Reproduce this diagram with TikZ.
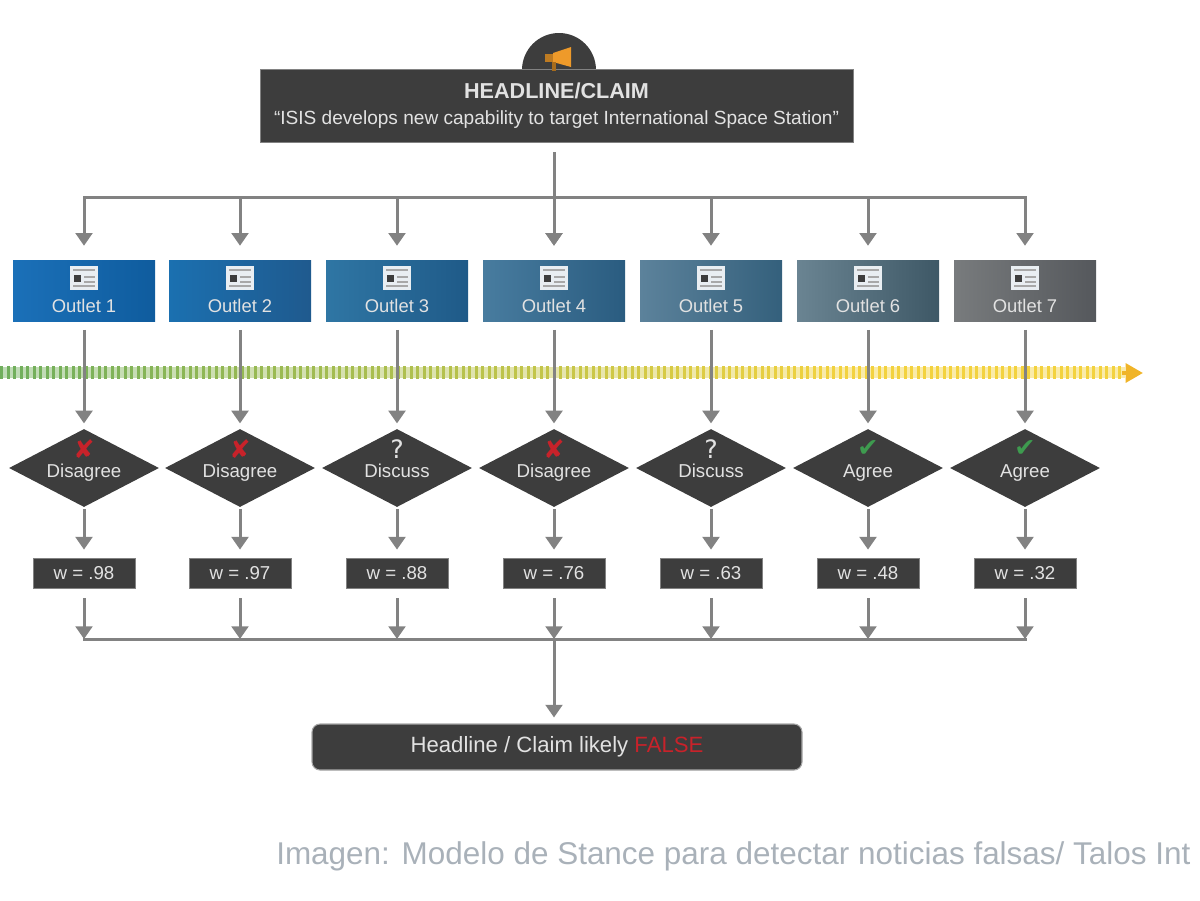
\documentclass[tikz,border=0pt]{standalone}
\usepackage{fontspec}
\setmainfont{Liberation Sans}
\newfontfamily\symfont{DejaVu Sans}
\usetikzlibrary{arrows.meta,shapes.geometric}

\definecolor{panel}{HTML}{3D3D3D}
\definecolor{wire}{HTML}{828282}
\definecolor{lettering}{HTML}{E2E2E2}
\definecolor{caption}{HTML}{A9B1B9}
\definecolor{falsered}{HTML}{C8222A}
\definecolor{agreegreen}{HTML}{3E9B4F}
\definecolor{horn}{HTML}{EE9A2A}
\definecolor{pageicon}{HTML}{E9EEF2}
\definecolor{trendG}{HTML}{6FAE5C}
\definecolor{trendY}{HTML}{F3D23E}
\definecolor{trendtip}{HTML}{F0B428}
\definecolor{outL1}{HTML}{1B70B8}\definecolor{outR1}{HTML}{0F5C9E}
\definecolor{outL2}{HTML}{1B70B0}\definecolor{outR2}{HTML}{1F5A8E}
\definecolor{outL3}{HTML}{2F76A4}\definecolor{outR3}{HTML}{1F5A88}
\definecolor{outL4}{HTML}{487C9F}\definecolor{outR4}{HTML}{2A5C80}
\definecolor{outL5}{HTML}{5C829B}\definecolor{outR5}{HTML}{34607C}
\definecolor{outL6}{HTML}{6A8492}\definecolor{outR6}{HTML}{3E5866}
\definecolor{outL7}{HTML}{787B7D}\definecolor{outR7}{HTML}{55585C}

\tikzset{
  darkbox/.style={fill=panel,draw=wire,line width=.6pt,inner sep=0pt,text=lettering,font=\fontsize{14}{18}\selectfont},
  outletbox/.style={minimum width=106.5pt,minimum height=45.75pt,inner sep=0pt},
  stancebox/.style={diamond,fill=panel,minimum width=112.5pt,minimum height=58.5pt,inner sep=0pt},
  weightbox/.style={darkbox,minimum width=76.5pt,minimum height=22.5pt},
  wireline/.style={draw=wire,line width=2.25pt},
  wirearrow/.style={wireline,-{Triangle[width=12.5pt,length=9.5pt]}},
  boxlabel/.style={inner sep=0pt,text=lettering,font=\fontsize{13.8}{16}\selectfont},
}

\begin{document}
\begin{tikzpicture}[x=0.75pt,y=-0.75pt]
  \useasboundingbox (0,0) rectangle (1200,900);

  %%%%  Trend band
  \foreach \t in {0,...,172}
  {\pgfmathsetmacro\k{min(100,\t/1.3)}
   \pgfmathsetmacro\xx{\t*6.5}
   \colorlet{trendnow}{trendY!\k!trendG}
   \fill[trendnow!45!white] (\xx,367) rectangle ++(6.5,11);
   \fill[trendnow] (\xx,365.5) rectangle ++(3.4,13);
  };
  \coordinate (trendA) at (1122,373);
  \coordinate (trendB) at (1143,373);
  \draw[-{Triangle[width=14pt,length=13pt]},draw=trendtip,line width=3pt] (trendA) -- (trendB);

  %%%%  Headline
  \fill[panel] (559,70) circle (37);
  \node[darkbox,align=center,minimum width=444.75pt,minimum height=54.75pt] (head) at (556.5,105.5)
    {{\bfseries\fontsize{16.2}{18}\selectfont HEADLINE/CLAIM}\\[1pt]{\fontsize{14.3}{18}\selectfont``ISIS develops new capability to target International Space Station''}};
  \fill[horn] (553,53) -- (571,47) -- (571,67) -- (553,62) -- cycle;
  \fill[horn!80!black] (545,54) rectangle (553,62);
  \fill[horn!70!black] (552,62) rectangle (556,71);

  \coordinate (busT) at (84,197);
  \coordinate (busB) at (84,639);
  \coordinate (busTe) at (1025,197);
  \coordinate (busBe) at (1025,639);
  \draw[wireline,line cap=rect] (busT) -- (busTe);
  \draw[wireline,line cap=rect] (busB) -- (busBe);

  %%%%  Columns
  \foreach \i/\x/\mrk/\mcol/\txt/\w in {
      1/84/✘/falsered/Disagree/.98,
      2/240/✘/falsered/Disagree/.97,
      3/397/?/lettering/Discuss/.88,
      4/554/✘/falsered/Disagree/.76,
      5/711/?/lettering/Discuss/.63,
      6/868/✔/agreegreen/Agree/.48,
      7/1025/✔/agreegreen/Agree/.32}
  {\coordinate (top\i) at (\x,197);
   \coordinate (low\i) at (\x,639);
   \node[outletbox,left color=outL\i,right color=outR\i] (outlet\i) at (\x,290.5) {};
   \node[boxlabel] (name\i) at (\x,306) {Outlet \i};
   \node[stancebox] (stance\i) at (\x,468) {};
   \node[boxlabel,anchor=base,font=\fontsize{14}{16}\selectfont] (verdict\i) at (\x,477) {\txt};
   \node[inner sep=0pt,text=\mcol,font=\symfont\fontsize{19}{20}\selectfont] (mark\i) at (\x,449) {\mrk};
   \node[weightbox] (weight\i) at (\x,573) {w = \w};

   % page icon
   \fill[pageicon] (\x-14,266) rectangle (\x+14,290);
   \fill[panel] (\x-10,275) rectangle (\x-3,282);
   \draw[wire!70,line width=.8pt] (\x-11,270) -- (\x+11,270) (\x,277) -- (\x+11,277) (\x,282) -- (\x+11,282) (\x-11,286) -- (\x+11,286);

   \draw[wirearrow,shorten >=10.5pt] (top\i) -- (outlet\i.north);
   \draw[wirearrow,shorten <=6.5pt,shorten >=4pt] (outlet\i.south) -- (stance\i.north);
   \draw[wirearrow,shorten <=1.5pt,shorten >=6pt] (stance\i.south) -- (weight\i.north);
   \draw[wirearrow,shorten <=7.5pt,shorten >=0pt] (weight\i.south) -- (low\i);
  };

  %%%%  Verdict
  \node[draw=wire!70,fill=panel,rounded corners=6pt,line width=.8pt,minimum width=367.5pt,minimum height=34.5pt,inner sep=0pt,text=lettering,font=\fontsize{16.6}{18}\selectfont] (verdict) at (557,747)
    {Headline / Claim likely \textcolor{falsered}{FALSE}};
  \draw[wireline,shorten <=-1pt,shorten >=4.5pt,-{Triangle[width=12.5pt,length=9.5pt]}] (low4) -- (low4 |- verdict.north);

  \draw[wireline,shorten <=7.5pt,shorten >=0pt] (head.south -| low4) -- (top4);
  \draw[wirearrow,shorten >=10.5pt] (top4) -- (outlet4.north);

  \node[anchor=base west,inner sep=0pt,text=caption,font=\fontsize{23.6}{26}\selectfont] (credit) at (276,864)
    {Imagen: Modelo de Stance para detectar noticias falsas/ Talos Int};
\end{tikzpicture}
\end{document}
